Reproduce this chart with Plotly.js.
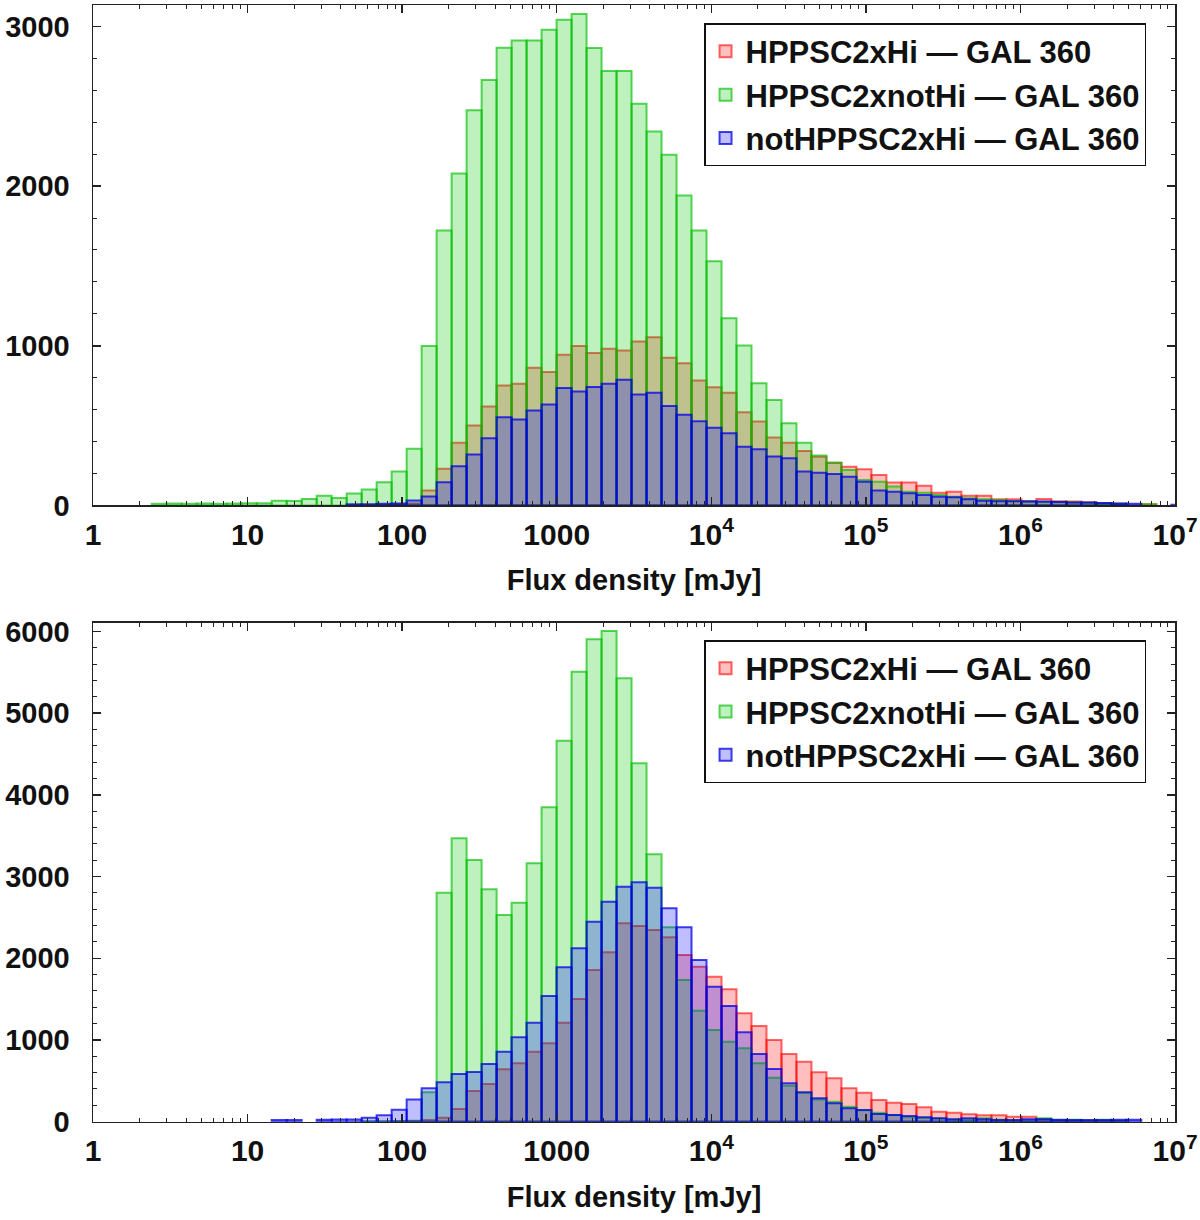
<!DOCTYPE html>
<html>
<head>
<meta charset="utf-8">
<script src="https://cdn.plot.ly/plotly-3.0.1.min.js"></script>
<style>body{margin:0;background:#fff}</style>
</head>
<body>
<div id="chart" style="width:1200px;height:1220px"></div>
<script>
// histogram bins: log10 of the first bin edge and bin width in dex
const binLo = 0.38;
const binDex = 0.097;

const names = [
  "HPPSC2xHi — GAL 360",
  "HPPSC2xnotHi — GAL 360",
  "notHPPSC2xHi — GAL 360",
];

// counts per bin, top panel
const topHi = [0,0,0,0,0,0,0,0,0,0,
  0,0,0,3,4,5,8,12,94,230,
  393,501,620,751,762,862,835,944,998,954,
  981,971,1027,1054,925,891,783,740,706,584,
  525,425,393,341,305,268,243,227,191,143,
  143,124,80,86,60,60,39,39,28,41,
  26,24,20,15,10,0,8,0,0];
const topNotHi = [10,12,10,12,11,12,14,13,30,28,
  40,60,46,75,100,145,212,355,998,1722,
  2079,2475,2665,2866,2912,2912,2979,3041,3077,2864,
  2720,2720,2515,2342,2196,1941,1722,1530,1172,1001,
  765,661,515,393,312,268,222,160,149,118,
  86,80,66,55,45,39,34,28,24,22,
  20,18,15,12,10,0,8,0,0];
const topNotHPPSC = [0,0,0,0,0,0,0,0,0,0,
  0,0,0,8,8,10,12,31,56,146,
  246,319,421,553,539,595,632,735,714,741,
  762,787,695,706,622,568,528,487,452,368,
  352,306,296,212,205,197,180,149,93,86,
  76,66,55,51,39,30,26,26,24,24,
  22,18,18,15,12,10,0,0,5];

// counts per bin, bottom panel
const botHi = [0,0,0,0,0,0,0,0,0,0,
  0,0,0,0,0,0,3,8,20,49,
  155,376,461,641,715,857,959,1212,1502,1857,
  2073,2428,2395,2346,2257,2040,1897,1775,1620,1327,
  1171,1000,829,734,604,531,408,355,266,233,
  217,176,122,110,90,78,78,61,61,29,
  15,10,10,5,5,0,0,0,0];
const botNotHi = [0,0,0,0,0,0,0,0,0,0,
  0,0,0,0,5,6,8,10,360,2803,
  3469,3203,2845,2530,2681,3163,3848,4664,5508,5905,
  6006,5427,4387,3273,2379,1734,1359,1122,979,898,
  715,539,441,355,270,245,184,140,110,82,
  53,48,38,28,25,41,22,18,18,41,
  20,25,15,25,15,0,0,0,0];
const botNotHPPSC = [0,0,0,0,0,0,0,0,20,20,
  0,25,28,28,49,80,147,270,409,482,
  584,608,706,857,1033,1212,1539,1890,2122,2448,
  2693,2876,2930,2864,2612,2379,1979,1652,1416,1094,
  829,645,470,360,286,225,164,143,94,82,
  69,53,41,29,41,29,20,20,29,29,
  25,20,20,20,25,25,0,0,0];

const xTickVals = [0, 1, 2, 3, 4, 5, 6, 7];
const xTickText = ["1", "10", "100", "1000", "10<sup>4</sup>", "10<sup>5</sup>", "10<sup>6</sup>", "10<sup>7</sup>"];

const fills = ["rgba(255,0,0,0.25)", "rgba(0,200,0,0.25)", "rgba(0,0,255,0.25)"];
const edges = ["rgba(255,0,0,0.6)", "rgba(0,190,0,0.65)", "rgba(0,0,230,0.75)"];

const FONT = "Liberation Sans, Arial, sans-serif";

function centers(n) {
  return Array.from({length: n}, (_, k) => binLo + (k + 0.5) * binDex);
}

function bars(series, xa, ya, legend) {
  return series.map((y, i) => ({
    type: "bar",
    x: centers(y.length),
    // empty bins are not drawn at all (no outline on the baseline)
    y: y.map((v) => (v > 0 ? v : null)),
    width: binDex,
    name: names[i],
    xaxis: xa,
    yaxis: ya,
    legend: legend,
    marker: {color: fills[i], line: {color: edges[i], width: 2}},
  }));
}

const minorX = [];
for (let d = 0; d < 7; d++) {
  for (let m = 2; m <= 9; m++) minorX.push(d + Math.log10(m));
}

const data = [
  ...bars([topHi, topNotHi, topNotHPPSC], "x", "y", "legend"),
  ...bars([botHi, botNotHi, botNotHPPSC], "x2", "y2", "legend2"),
];

function xAxis(anchor) {
  return {
    anchor: anchor,
    domain: [0.0775, 0.9792],
    range: [0, 7],
    tickmode: "array",
    tickvals: xTickVals,
    ticktext: xTickText,
    ticks: "inside",
    ticklen: 8,
    tickwidth: 1.5,
    tickcolor: "#222",
    minor: {tickmode: "array", tickvals: minorX, ticks: "inside", ticklen: 4, tickwidth: 1, tickcolor: "#222"},
    showline: true,
    linecolor: "#222",
    linewidth: 1.5,
    mirror: "allticks",
    showgrid: false,
    zeroline: false,
    ticklabelstandoff: 2,
    tickfont: {family: FONT, size: 30, weight: "bold", color: "#111"},
    title: {text: "Flux density [mJy]", standoff: 20, font: {family: FONT, size: 29, weight: "bold", color: "#111"}},
  };
}

function yAxis(anchor, domain, top) {
  return {
    anchor: anchor,
    domain: domain,
    range: [0, top],
    dtick: 1000,
    ticks: "inside",
    ticklen: 8,
    tickwidth: 1.5,
    tickcolor: "#222",
    minor: {dtick: 200, ticks: "inside", ticklen: 4, tickwidth: 1, tickcolor: "#222"},
    showline: true,
    linecolor: "#222",
    linewidth: 1.5,
    mirror: "allticks",
    showgrid: false,
    zeroline: false,
    ticklabelstandoff: 16,
    tickfont: {family: FONT, size: 29, weight: "bold", color: "#111"},
  };
}

function legendBox(y) {
  return {
    x: 0.5867, y: y, xanchor: "left", yanchor: "top",
    bgcolor: "white",
    bordercolor: "#111",
    borderwidth: 1.5,
    font: {family: FONT, size: 31, weight: "bold", color: "#111"},
    traceorder: "normal",
  };
}

const layout = {
  width: 1200,
  height: 1220,
  margin: {l: 0, r: 0, t: 0, b: 0},
  paper_bgcolor: "white",
  plot_bgcolor: "white",
  barmode: "overlay",
  bargap: 0,
  xaxis: xAxis("y"),
  yaxis: yAxis("x", [0.5857, 0.9959], 3134),
  xaxis2: xAxis("y2"),
  yaxis2: yAxis("x2", [0.0806, 0.4896], 6108),
  legend: legendBox(0.981),
  legend2: legendBox(0.4754),
};

Plotly.newPlot("chart", data, layout, {staticPlot: true});
</script>
</body>
</html>
